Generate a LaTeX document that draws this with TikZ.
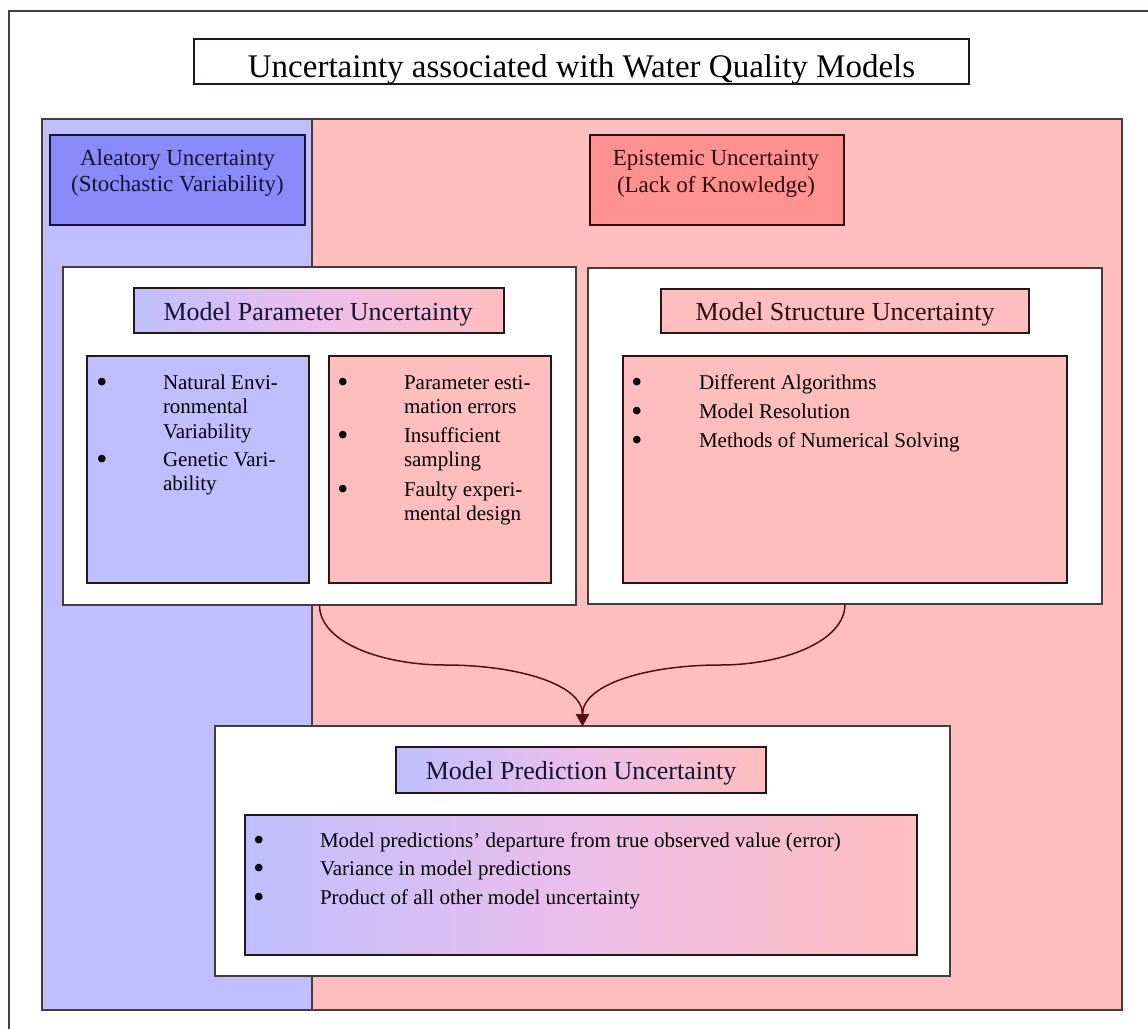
\documentclass[tikz,border=0pt]{standalone}
\usepackage{fontspec}
\setmainfont{Liberation Serif}
\usetikzlibrary{arrows.meta}

\definecolor{bluepanel}{RGB}{191,191,255}
\definecolor{pinkpanel}{RGB}{255,190,190}
\definecolor{aleablue}{RGB}{138,138,250}
\definecolor{epipink}{RGB}{255,145,145}
\definecolor{midmauve}{RGB}{236,190,234}
\definecolor{edge}{RGB}{38,22,22}
\definecolor{greyedge}{RGB}{70,60,60}
\definecolor{arrowred}{RGB}{85,15,15}
\definecolor{inkblue}{RGB}{20,20,50}
\definecolor{inkred}{RGB}{45,12,12}

\begin{document}
\begin{tikzpicture}[x=1pt,y=-1pt,
  every node/.style={inner sep=0pt, outer sep=0pt},
  framestyle/.style={draw=greyedge, line width=1.3pt},
  panelline/.style={draw=greyedge, line width=1.2pt},
  whitebox/.style={rectangle, draw=greyedge, fill=white, line width=1.6pt},
  titlebox/.style={rectangle, draw=edge, fill=white, line width=2pt},
  headbox/.style={rectangle, line width=2.6pt},
  innerbox/.style={rectangle, draw=edge, line width=2.6pt},
  mixfill/.style={left color=bluepanel, right color=pinkpanel, middle color=midmauve},
  titlefont/.style={font=\fontsize{33}{38}\selectfont},
  headfont/.style={font=\fontsize{23}{26}\selectfont},
  subfont/.style={font=\fontsize{26}{30}\selectfont},
  bodyfont/.style={font=\fontsize{21}{24.5}\selectfont},
  bulletmark/.style={bodyfont, anchor=base, yshift=-3pt},
  linetext/.style={bodyfont, anchor=base west},
  conn/.style={draw=arrowred, line width=1.5pt, -{Triangle[width=13pt,length=12pt]}},
]
\useasboundingbox (0,0) rectangle (1148,1028);
\clip (0,0) rectangle (1148,1028);
\fill[white] (0,0) rectangle (1148,1028);

% page frame (runs off the right and bottom edges)
\draw[framestyle] (9,1100) -- (9,11) -- (1200,11);

% title
\node[titlebox, minimum width=775pt, minimum height=45pt] (titlebox) at (581.5,61.5) {};
\node[titlefont, anchor=base] (title) at (581.5,77) {Uncertainty associated with Water Quality Models};

% background split: aleatory (left) and epistemic (right)
\fill[bluepanel] (42,119) rectangle (312,1010);
\fill[pinkpanel] (312,119) rectangle (1122,1010);
\draw[panelline] (42,119) rectangle (1122,1010);
\draw[panelline] (312,119) -- (312,1010);

% headings of the two kinds of uncertainty
\node[headbox, draw=inkblue, fill=aleablue, minimum width=255pt, minimum height=90pt] (alea) at (177.5,180) {};
\node[headfont, anchor=base, text=inkblue] (aleaA) at (177.5,165) {Aleatory Uncertainty};
\node[headfont, anchor=base, text=inkblue] (aleaB) at (177.5,191) {(Stochastic Variability)};

\node[headbox, draw=inkred, fill=epipink, minimum width=254pt, minimum height=90pt] (epi) at (717,180) {};
\node[headfont, anchor=base, text=inkred] (epiA) at (716,165) {Epistemic Uncertainty};
\node[headfont, anchor=base, text=inkred] (epiB) at (716,192) {(Lack of Knowledge)};

% model parameter uncertainty
\node[whitebox, minimum width=513pt, minimum height=338pt] (mpu) at (319.5,436) {};
\node[innerbox, mixfill, minimum width=370pt, minimum height=45pt] (mpuhead) at (319,310.5) {};
\node[subfont, anchor=base, text=inkblue] (mputitle) at (318,320) {Model Parameter Uncertainty};

\node[innerbox, fill=bluepanel, minimum width=222pt, minimum height=227pt] (mpuleft) at (198,469.5) {};
\node[bulletmark] (lb1) at (102,389) {\scalebox{1.5}{•}};
\node[linetext] (l1a) at (163,389) {Natural Envi-};
\node[linetext] (l1b) at (163,413.5) {ronmental};
\node[linetext] (l1c) at (163,438) {Variability};
\node[bulletmark] (lb2) at (102,466) {\scalebox{1.5}{•}};
\node[linetext] (l2a) at (163,466) {Genetic Vari-};
\node[linetext] (l2b) at (163,490.5) {ability};

\node[innerbox, fill=pinkpanel, minimum width=222pt, minimum height=227pt] (mpuright) at (440,469.5) {};
\node[bulletmark] (rb1) at (343,389) {\scalebox{1.5}{•}};
\node[linetext] (r1a) at (404,389) {Parameter esti-};
\node[linetext] (r1b) at (404,413.5) {mation errors};
\node[bulletmark] (rb2) at (343,442) {\scalebox{1.5}{•}};
\node[linetext] (r2a) at (404,442) {Insufficient};
\node[linetext] (r2b) at (404,466.5) {sampling};
\node[bulletmark] (rb3) at (343,496) {\scalebox{1.5}{•}};
\node[linetext] (r3a) at (404,496) {Faulty experi-};
\node[linetext] (r3b) at (404,520.5) {mental design};

% model structure uncertainty
\node[whitebox, minimum width=514pt, minimum height=336pt] (msu) at (845,436) {};
\node[innerbox, fill=pinkpanel, minimum width=368pt, minimum height=44pt] (msuhead) at (845,311) {};
\node[subfont, anchor=base, text=inkred] (msutitle) at (845,320) {Model Structure Uncertainty};

\node[innerbox, fill=pinkpanel, minimum width=444pt, minimum height=227pt] (msuin) at (845,469.5) {};
\node[bulletmark] (sb1) at (637,389) {\scalebox{1.5}{•}};
\node[linetext] (s1) at (699,389) {Different Algorithms};
\node[bulletmark] (sb2) at (637,418) {\scalebox{1.5}{•}};
\node[linetext] (s2) at (699,418) {Model Resolution};
\node[bulletmark] (sb3) at (637,447) {\scalebox{1.5}{•}};
\node[linetext] (s3) at (699,447) {Methods of Numerical Solving};

% model prediction uncertainty
\node[whitebox, minimum width=735pt, minimum height=250pt] (pred) at (582.5,851) {};
\node[innerbox, mixfill, minimum width=370pt, minimum height=46pt] (predhead) at (581,770) {};
\node[subfont, anchor=base, text=inkblue] (predtitle) at (581,779) {Model Prediction Uncertainty};

\node[innerbox, mixfill, minimum width=672pt, minimum height=140pt] (predin) at (581,885) {};
\node[bulletmark] (pb1) at (259,847) {\scalebox{1.5}{•}};
\node[linetext] (p1) at (320,847) {Model predictions’ departure from true observed value (error)};
\node[bulletmark] (pb2) at (259,875.5) {\scalebox{1.5}{•}};
\node[linetext] (p2) at (320,875.5) {Variance in model predictions};
\node[bulletmark] (pb3) at (259,904) {\scalebox{1.5}{•}};
\node[linetext] (p3) at (320,904) {Product of all other model uncertainty};

% both parameter and structure uncertainty feed the prediction
\coordinate (lbend) at (445,665);
\coordinate (rbend) at (720,665);
\draw[conn] (mpu.south) .. controls +(0,38) and +(-62,0) .. (lbend)
  .. controls +(72,0) and +(0,-42) .. (pred.north);
\draw[conn] (msu.south) .. controls +(0,38) and +(62,0) .. (rbend)
  .. controls +(-72,0) and +(0,-42) .. (pred.north);
\end{tikzpicture}
\end{document}
